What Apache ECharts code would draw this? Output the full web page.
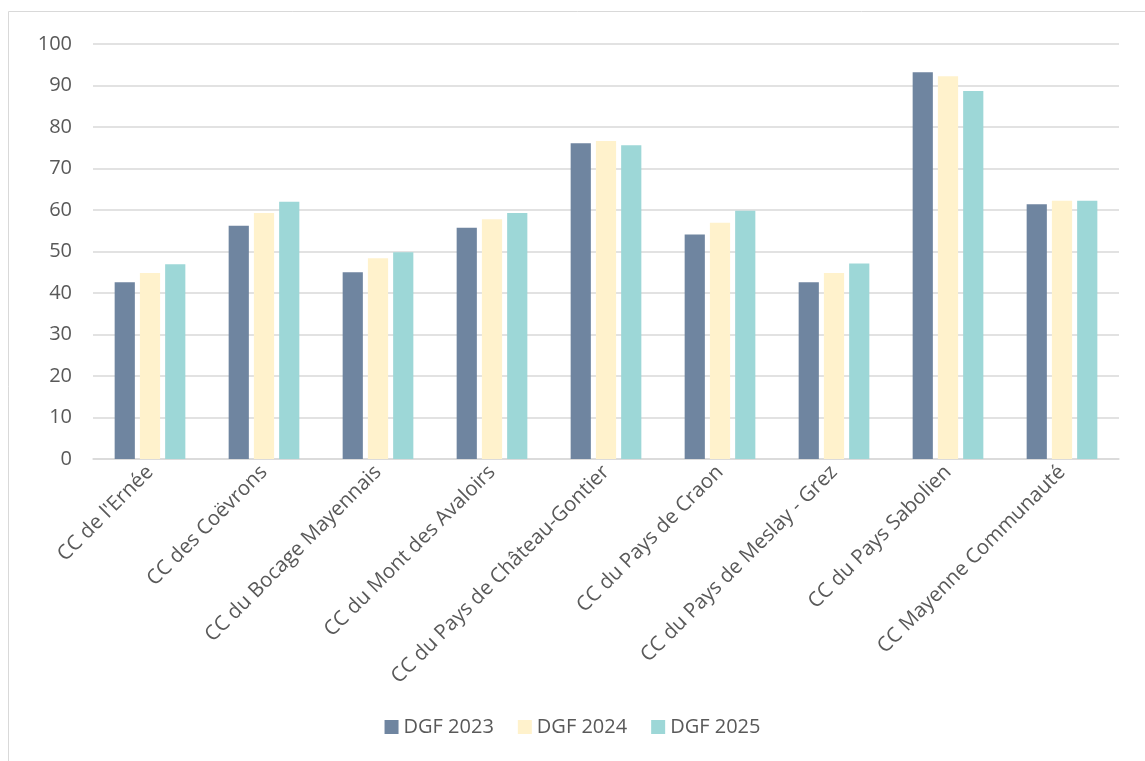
<!DOCTYPE html>
<html>
<head>
<meta charset="utf-8">
<script src="https://cdn.jsdelivr.net/npm/echarts@6/dist/echarts.min.js"></script>
<style>
  html, body { margin: 0; padding: 0; background: #fff; }
  #chart { width: 1145px; height: 761px; }
</style>
</head>
<body>
<div id="chart"></div>
<script>
const categories = [
  "CC de l'Ernée",
  'CC des Coëvrons',
  'CC du Bocage Mayennais',
  'CC du Mont des Avaloirs',
  'CC du Pays de Château-Gontier',
  'CC du Pays de Craon',
  'CC du Pays de Meslay - Grez',
  'CC du Pays Sabolien',
  'CC Mayenne Communauté'
]
const seriesNames = ['DGF 2023', 'DGF 2024', 'DGF 2025']
const dgf2023 = [42.6, 56.2, 45.0, 55.7, 76.1, 54.1, 42.6, 93.2, 61.4]
const dgf2024 = [44.8, 59.3, 48.4, 57.8, 76.6, 56.9, 44.8, 92.2, 62.2]
const dgf2025 = [46.9, 62.0, 49.8, 59.3, 75.6, 59.8, 47.1, 88.7, 62.2]
const colors = ['#6f85a0', '#fff2cc', '#9dd7d7']

const chart = echarts.init(document.getElementById('chart'))
const font = '"Open Sans", Lato, sans-serif'

const option = {
  animation: false,
  textStyle: { fontFamily: font },
  graphic: [
    {
      type: 'rect',
      shape: { x: 8.5, y: 11.5, width: 1200, height: 800 },
      style: { fill: 'none', stroke: '#d9d9d9', lineWidth: 1 }
    }
  ],
  grid: {
    left: 93,
    right: 26,
    top: 44,
    bottom: 302,
    containLabel: false
  },
  legend: {
    data: seriesNames,
    bottom: 19,
    left: 'center',
    itemWidth: 14,
    itemHeight: 14,
    itemGap: 24,
    icon: 'rect',
    textStyle: { color: '#595959', fontSize: 20, fontFamily: font }
  },
  xAxis: {
    type: 'category',
    data: categories,
    axisLine: { lineStyle: { color: '#d9d9d9', width: 1.5 } },
    axisTick: { show: false },
    axisLabel: {
      rotate: 45,
      interval: 0,
      color: '#595959',
      fontSize: 20.5,
      margin: 10,
      fontFamily: font
    }
  },
  yAxis: {
    type: 'value',
    min: 0,
    max: 100,
    interval: 10,
    axisLine: { show: false },
    axisTick: { show: false },
    splitLine: { lineStyle: { color: '#d9d9d9', width: 1.5 } },
    axisLabel: {
      color: '#595959',
      fontSize: 20,
      margin: 21,
      fontFamily: font
    }
  },
  series: [dgf2023, dgf2024, dgf2025].map((d, i) => ({
    name: seriesNames[i],
    type: 'bar',
    data: d,
    barGap: '25%',
    barCategoryGap: '38%',
    itemStyle: { color: colors[i] }
  }))
}
chart.setOption(option)
</script>
</body>
</html>
